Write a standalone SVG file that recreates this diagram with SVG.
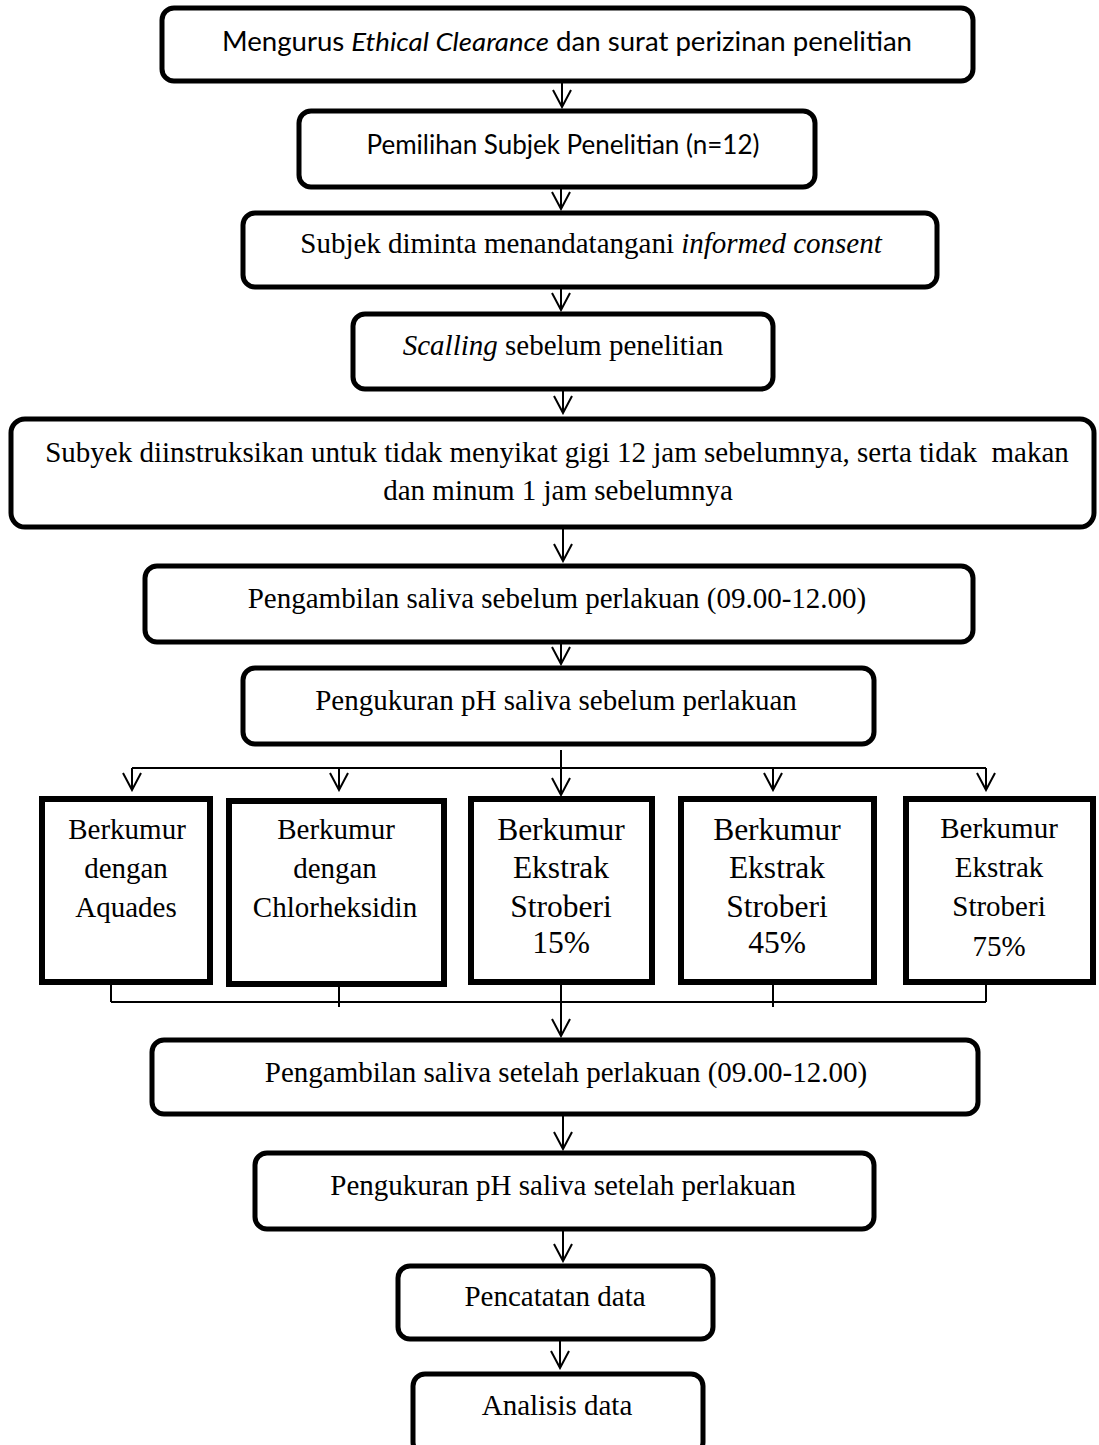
<svg xmlns="http://www.w3.org/2000/svg" width="1099" height="1445" viewBox="0 0 1099 1445">
<style>
.bx{fill:#fff;stroke:#000;stroke-width:5}
.sq{fill:#fff;stroke:#000;stroke-width:6}
.ln{stroke:#000;stroke-width:2;fill:none}
.ar{stroke:#000;stroke-width:2;fill:none;marker-end:url(#v)}
.sf{font-family:"Liberation Serif","Times New Roman",serif;font-size:29px;fill:#000;text-anchor:middle}
.ss{font-family:Lato,"Liberation Sans",sans-serif;font-size:26px;fill:#000;text-anchor:middle}
.it{font-style:italic}
.big{font-size:31.5px}
</style>
<defs>
<marker id="v" viewBox="0 0 20 20" refX="18" refY="10" markerWidth="20" markerHeight="20" markerUnits="userSpaceOnUse" orient="auto">
<path d="M1,1 L18,10 L1,19" fill="none" stroke="#000" stroke-width="2"/>
</marker>
</defs>
<g id="connectors">
<line class="ar" x1="562" y1="82" x2="562" y2="107"/>
<line class="ar" x1="561" y1="188" x2="561" y2="209"/>
<line class="ar" x1="561" y1="288" x2="561" y2="310"/>
<line class="ar" x1="563" y1="390" x2="563" y2="413"/>
<line class="ar" x1="563" y1="528" x2="563" y2="561"/>
<line class="ar" x1="561" y1="643" x2="561" y2="664"/>
<line class="ar" x1="561" y1="750" x2="561" y2="795"/>
<line class="ln" x1="132" y1="768" x2="986" y2="768"/>
<line class="ar" x1="132" y1="768" x2="132" y2="790"/>
<line class="ar" x1="339" y1="768" x2="339" y2="790"/>
<line class="ar" x1="773" y1="768" x2="773" y2="790"/>
<line class="ar" x1="986" y1="768" x2="986" y2="790"/>
<line class="ln" x1="111" y1="980" x2="111" y2="1002"/>
<line class="ln" x1="339" y1="985" x2="339" y2="1007"/>
<line class="ln" x1="773" y1="983" x2="773" y2="1007"/>
<line class="ln" x1="986" y1="980" x2="986" y2="1002"/>
<line class="ln" x1="111" y1="1002" x2="986" y2="1002"/>
<line class="ar" x1="561" y1="983" x2="561" y2="1036"/>
<line class="ar" x1="563" y1="1113" x2="563" y2="1149"/>
<line class="ar" x1="563" y1="1230" x2="563" y2="1261"/>
<line class="ar" x1="560" y1="1340" x2="560" y2="1368"/>
</g>
<g id="n1"><rect class="bx" x="162" y="8" width="811" height="73" rx="12"/>
<text class="ss" x="567" y="51" textLength="690" lengthAdjust="spacingAndGlyphs">Mengurus <tspan class="it">Ethical Clearance</tspan> dan surat perizinan penelitian</text></g>
<g id="n2"><rect class="bx" x="299" y="111" width="516" height="76" rx="12"/>
<text class="ss" x="563" y="154" textLength="393" lengthAdjust="spacingAndGlyphs">Pemilihan Subjek Penelitian (n=12)</text></g>
<g id="n3"><rect class="bx" x="243" y="213" width="694" height="74" rx="12"/>
<text class="sf" x="591" y="253">Subjek diminta menandatangani <tspan class="it">informed consent</tspan></text></g>
<g id="n4"><rect class="bx" x="353" y="314" width="420" height="75" rx="12"/>
<text class="sf" x="563" y="355"><tspan class="it">Scalling</tspan> sebelum penelitian</text></g>
<g id="n5"><rect class="bx" x="11" y="419" width="1083" height="108" rx="14"/>
<text class="sf" x="557" y="462" xml:space="preserve">Subyek diinstruksikan untuk tidak menyikat gigi 12 jam sebelumnya, serta tidak  makan</text>
<text class="sf" x="558" y="500">dan minum 1 jam sebelumnya</text></g>
<g id="n6"><rect class="bx" x="145" y="566" width="828" height="76" rx="12"/>
<text class="sf" x="557" y="608">Pengambilan saliva sebelum perlakuan (09.00-12.00)</text></g>
<g id="n7"><rect class="bx" x="243" y="668" width="631" height="76" rx="12"/>
<text class="sf" x="556" y="710">Pengukuran pH saliva sebelum perlakuan</text></g>
<g id="na"><rect class="sq" x="42" y="799" width="168" height="183"/>
<text class="sf" x="127" y="839">Berkumur</text><text class="sf" x="126" y="878">dengan</text><text class="sf" x="126" y="917">Aquades</text></g>
<g id="nb"><rect class="sq" x="229" y="801" width="215" height="183"/>
<text class="sf" x="336" y="839">Berkumur</text><text class="sf" x="335" y="878">dengan</text><text class="sf" x="335" y="917">Chlorheksidin</text></g>
<g id="nc"><rect class="sq" x="471" y="799" width="181" height="183"/>
<text class="sf big" x="561" y="840">Berkumur</text><text class="sf big" x="561" y="878">Ekstrak</text><text class="sf big" x="561" y="917">Stroberi</text><text class="sf big" x="561" y="953">15%</text></g>
<g id="nd"><rect class="sq" x="681" y="799" width="193" height="183"/>
<text class="sf big" x="777" y="840">Berkumur</text><text class="sf big" x="777" y="878">Ekstrak</text><text class="sf big" x="777" y="917">Stroberi</text><text class="sf big" x="777" y="953">45%</text></g>
<g id="ne"><rect class="sq" x="906" y="799" width="187" height="183"/>
<text class="sf" x="999" y="838">Berkumur</text><text class="sf" x="999" y="877">Ekstrak</text><text class="sf" x="999" y="916">Stroberi</text><text class="sf" x="999" y="956">75%</text></g>
<g id="n8"><rect class="bx" x="152" y="1040" width="826" height="74" rx="12"/>
<text class="sf" x="566" y="1082">Pengambilan saliva setelah perlakuan (09.00-12.00)</text></g>
<g id="n9"><rect class="bx" x="255" y="1153" width="619" height="76" rx="12"/>
<text class="sf" x="563" y="1195">Pengukuran pH saliva setelah perlakuan</text></g>
<g id="n10"><rect class="bx" x="398" y="1266" width="315" height="73" rx="12"/>
<text class="sf" x="555" y="1306">Pencatatan data</text></g>
<g id="n11"><rect class="bx" x="413" y="1374" width="290" height="80" rx="12"/>
<text class="sf" x="557" y="1415">Analisis data</text></g>
</svg>
